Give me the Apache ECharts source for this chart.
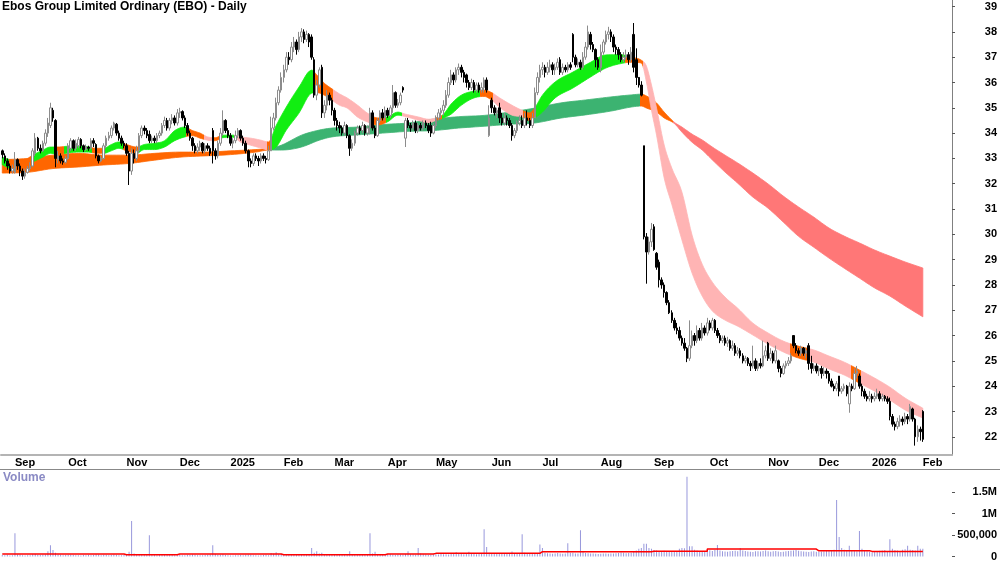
<!DOCTYPE html>
<html>
<head>
<meta charset="utf-8">
<script src="https://cdn.jsdelivr.net/npm/echarts@6/dist/echarts.min.js"></script>
<style>html,body{margin:0;padding:0;background:#fff}#root{width:1000px;height:562px}</style>
</head>
<body>
<div id="root"></div>
<script>
// daily OHLC, 26 Aug 2024 .. 2 Feb 2026 (ASX trading days)
const opens = [
33.3,33.1,32.9,32.7,32.5,32.45,32.95,32.7,32.5,32.3,
32.45,32.6,32.7,33.2,33.8,33.4,33.3,33.6,34.0,34.3,
34.9,34.5,32.95,33.1,32.9,32.85,33.0,33.4,33.7,33.4,
33.5,33.75,33.5,33.35,33.45,33.4,33.7,33.55,33.1,32.9,
33.0,33.5,33.8,33.9,34.2,34.35,34.0,33.8,33.6,33.5,
33.2,32.5,33.2,33.0,33.3,33.9,34.2,34.1,33.95,33.7,
33.8,33.7,33.9,34.0,34.3,34.5,34.2,34.5,34.6,34.4,
34.8,34.85,34.6,34.3,34.0,33.8,33.5,33.3,33.45,33.6,
33.3,33.5,33.4,34.1,33.3,33.1,33.6,34.0,34.5,34.1,
33.9,33.6,33.7,33.9,34.1,33.8,33.6,33.3,32.9,32.8,
33.1,33.0,32.9,33.1,33.0,32.95,33.3,34.2,34.6,35.2,
35.7,36.2,36.5,37.0,36.9,37.4,37.6,37.3,37.8,38.0,
37.7,37.9,37.8,36.9,35.5,35.9,36.6,34.8,35.1,35.5,
35.3,34.9,34.5,34.3,34.2,34.0,34.3,33.9,33.4,33.6,
34.0,34.2,34.1,34.3,34.0,34.2,34.8,34.2,33.9,34.5,
34.8,34.6,34.9,34.7,35.0,35.6,35.1,35.2,35.8,33.8,
34.5,34.3,34.2,34.4,34.1,34.3,34.2,34.4,34.3,34.3,
34.0,34.3,34.6,34.8,34.9,35.1,35.5,36.0,36.3,36.1,
36.5,36.6,36.4,36.3,36.0,35.8,36.0,35.7,35.9,35.7,
35.8,36.1,33.9,35.3,35.0,34.8,35.0,34.6,34.4,34.6,
34.5,34.3,33.9,34.1,34.4,34.5,34.3,34.6,34.5,34.3,
34.6,35.6,36.2,36.5,36.6,36.4,36.6,36.7,36.5,36.6,
36.9,36.4,36.6,36.5,36.7,37.9,37.0,36.7,36.8,36.6,
37.0,37.4,37.9,37.5,37.3,36.9,36.6,37.2,37.6,37.9,
38.0,37.8,37.4,37.3,37.1,36.9,37.0,37.1,36.9,37.9,
36.9,36.2,35.9,33.5,29.9,29.3,29.7,30.3,29.25,28.9,
28.2,28.0,27.7,27.3,26.9,26.6,26.3,26.2,25.9,25.7,
25.5,25.1,25.6,26.0,25.8,26.2,25.9,26.3,26.1,26.5,
26.3,26.6,26.2,26.0,25.8,25.9,25.7,25.8,25.5,25.6,
25.3,25.4,25.2,25.0,25.1,24.9,24.8,25.0,24.7,24.9,
24.8,25.2,25.7,25.1,25.3,25.0,25.0,24.7,24.5,24.8,
24.9,25.0,26.0,25.6,25.4,25.3,25.5,25.3,25.6,24.9,
24.7,24.8,24.6,24.7,24.5,24.6,24.5,24.2,24.0,23.9,
24.4,23.8,23.9,24.0,23.3,24.0,23.9,24.5,24.4,24.0,
23.8,23.6,23.5,23.6,23.5,23.6,23.7,23.5,23.6,23.5,
23.4,22.8,22.5,22.4,22.6,22.7,22.6,22.8,22.7,23.1,
22.7,22.0,22.3,23.0
];
const closes = [
33.15,32.9,32.7,32.5,32.6,32.95,32.7,32.5,32.3,32.45,
32.6,32.7,33.3,33.8,33.4,33.3,33.6,34.0,34.4,35.0,
34.6,33.0,33.1,32.9,32.85,33.0,33.5,33.7,33.4,33.6,
33.75,33.5,33.35,33.45,33.4,33.7,33.6,33.1,32.9,33.0,
33.5,33.8,33.9,34.2,34.4,34.0,33.8,33.6,33.5,33.2,
32.5,33.2,33.0,33.3,33.9,34.2,34.1,33.9,33.7,33.8,
33.7,33.9,34.0,34.3,34.5,34.2,34.5,34.6,34.4,34.8,
34.85,34.6,34.3,34.0,33.8,33.5,33.3,33.45,33.6,33.3,
33.5,33.4,33.2,33.3,33.1,33.6,34.0,34.5,34.1,33.9,
33.6,33.7,33.9,34.1,33.8,33.6,33.3,32.9,32.8,33.1,
33.0,32.9,33.1,33.0,32.95,33.3,34.2,34.6,35.2,35.7,
36.2,36.5,37.0,36.9,37.4,37.6,37.3,37.8,38.0,37.7,
37.9,37.6,37.0,35.5,35.9,36.5,34.8,35.1,35.5,35.3,
34.9,34.5,34.3,34.2,34.0,34.3,33.9,33.4,33.6,34.0,
34.2,34.1,34.3,34.0,34.2,34.8,34.2,33.9,34.5,34.8,
34.6,34.9,34.7,35.0,35.6,35.1,35.2,35.5,35.7,34.5,
34.3,34.2,34.4,34.1,34.3,34.2,34.4,34.3,34.1,34.0,
34.3,34.6,34.8,34.9,35.1,35.5,36.0,36.3,36.1,36.5,
36.6,36.4,36.2,36.0,35.8,36.0,35.7,35.9,35.7,35.8,
36.1,35.7,34.6,35.0,34.8,34.9,34.6,34.4,34.6,34.5,
34.3,33.9,34.1,34.4,34.5,34.3,34.6,34.5,34.3,34.6,
35.6,36.2,36.5,36.6,36.4,36.6,36.7,36.5,36.6,36.8,
36.4,36.6,36.5,36.7,36.6,37.0,36.7,36.8,36.6,37.0,
37.4,38.0,37.5,37.3,36.9,36.6,37.2,37.6,37.9,38.0,
37.8,37.4,37.3,37.1,36.9,37.0,37.1,36.9,37.2,36.6,
36.2,35.9,35.5,29.9,29.3,29.7,30.2,29.4,28.7,28.2,
28.0,27.7,27.3,26.9,26.6,26.3,26.2,25.9,25.7,25.5,
25.1,25.6,26.0,25.8,26.2,25.9,26.3,26.1,26.5,26.3,
26.6,26.2,26.0,25.8,25.9,25.7,25.8,25.5,25.6,25.3,
25.4,25.2,25.0,25.1,24.9,24.8,25.0,24.7,24.9,24.8,
25.2,25.4,25.1,25.3,25.0,25.4,24.7,24.5,24.8,24.9,
25.0,25.2,25.6,25.4,25.3,25.5,25.3,25.4,24.9,24.7,
24.8,24.6,24.7,24.5,24.6,24.5,24.2,24.0,23.9,24.1,
23.8,23.9,24.0,23.7,24.0,23.9,24.5,24.6,24.0,23.8,
23.6,23.5,23.6,23.5,23.6,23.7,23.5,23.6,23.5,23.4,
22.8,22.5,22.4,22.6,22.7,22.6,22.8,22.7,23.2,22.7,
22.0,22.3,22.2,21.9
];
const lows = [
33.0,32.8,32.55,32.4,32.4,32.4,32.55,32.3,32.15,32.2,
32.4,32.5,32.65,33.1,33.3,33.2,33.25,33.5,33.85,34.2,
34.45,32.65,32.8,32.8,32.75,32.8,32.95,33.3,33.3,33.3,
33.4,33.4,33.25,33.3,33.3,33.35,33.45,33.0,32.8,32.85,
32.95,33.4,33.7,33.8,34.1,33.9,33.7,33.5,33.4,33.1,
31.95,32.35,32.8,32.9,33.2,33.8,33.95,33.8,33.6,33.6,
33.6,33.6,33.8,33.9,34.2,34.1,34.1,34.35,34.3,34.3,
34.6,34.5,34.2,33.9,33.7,33.3,33.2,33.2,33.3,33.2,
33.2,33.3,33.1,32.8,32.95,33.0,33.5,33.9,34.0,33.8,
33.5,33.4,33.6,33.8,33.7,33.5,33.2,32.65,32.65,32.7,
32.9,32.7,32.8,32.9,32.8,32.9,33.3,34.1,34.5,35.1,
35.6,36.0,36.4,36.7,36.8,37.2,37.1,37.2,37.6,37.55,
37.6,37.4,36.9,35.4,35.3,35.8,34.6,34.6,34.9,35.1,
34.7,34.3,34.1,34.0,33.9,33.9,33.8,33.1,33.3,33.5,
33.9,33.95,34.0,33.9,33.9,33.95,34.1,33.8,33.85,34.4,
34.5,34.5,34.6,34.6,34.8,35.0,35.0,35.1,35.6,33.45,
34.2,34.05,34.1,34.0,34.0,34.1,34.1,34.2,34.0,33.85,
33.95,34.2,34.5,34.6,34.7,35.0,35.4,35.9,35.9,36.0,
36.3,36.2,36.0,35.8,35.7,35.7,35.6,35.6,35.6,35.6,
35.6,35.6,33.85,34.8,34.7,34.6,34.4,34.3,34.3,34.3,
34.2,33.7,33.8,34.0,34.3,34.2,34.2,34.3,34.2,34.2,
34.6,35.5,36.0,36.3,36.2,36.3,36.4,36.3,36.3,36.5,
36.3,36.3,36.4,36.4,36.5,36.8,36.6,36.6,36.5,36.5,
36.9,37.3,37.3,37.2,36.6,36.5,36.4,37.1,37.5,37.7,
37.6,37.2,37.1,36.9,36.8,36.8,36.9,36.7,36.8,36.4,
35.9,35.8,35.45,29.8,28.05,29.2,29.5,29.35,28.6,27.9,
27.85,27.5,27.2,26.85,26.5,26.2,26.05,25.8,25.6,25.4,
24.95,25.0,25.5,25.6,25.7,25.8,25.8,26.0,26.0,26.2,
26.2,26.1,25.9,25.7,25.7,25.6,25.55,25.4,25.4,25.2,
25.2,25.1,24.9,24.9,24.8,24.6,24.7,24.6,24.6,24.7,
24.75,25.1,25.0,25.0,24.9,24.9,24.55,24.35,24.45,24.7,
24.8,24.9,25.5,25.3,25.2,25.2,25.2,25.1,24.65,24.5,
24.6,24.5,24.4,24.3,24.4,24.3,24.1,23.95,23.8,23.8,
23.6,23.7,23.8,23.6,22.95,23.8,23.85,24.3,23.9,23.6,
23.5,23.4,23.4,23.35,23.4,23.5,23.4,23.4,23.4,23.3,
22.65,22.4,22.25,22.3,22.4,22.45,22.5,22.5,22.6,22.6,
21.65,21.8,21.85,21.8
];
const highs = [
33.35,33.2,33.0,32.8,32.75,33.25,33.0,32.8,32.6,32.6,
32.7,32.85,33.4,34.0,33.85,33.55,33.7,34.15,34.6,35.2,
35.0,34.55,33.3,33.2,33.0,33.1,33.6,33.8,33.75,33.75,
33.85,33.8,33.55,33.55,33.5,33.8,33.8,33.6,33.15,33.1,
33.6,33.9,34.05,34.3,34.45,34.4,34.1,33.9,33.7,33.6,
33.3,33.4,33.35,33.5,34.0,34.3,34.3,34.2,34.1,33.9,
33.9,34.0,34.1,34.4,34.65,34.6,34.6,34.75,34.7,34.95,
35.0,34.9,34.7,34.4,34.1,33.85,33.6,33.6,33.7,33.65,
33.6,33.6,33.5,34.2,33.4,33.7,34.2,34.9,34.55,34.2,
34.0,33.8,34.1,34.2,34.15,33.9,33.7,33.35,33.0,33.2,
33.2,33.1,33.2,33.2,33.1,33.5,34.65,34.8,35.4,35.85,
36.4,36.7,37.2,37.2,37.6,37.8,37.7,38.0,38.15,38.1,
38.05,37.95,37.9,37.0,36.1,36.6,36.7,35.3,35.7,35.6,
35.4,35.0,34.6,34.45,34.3,34.45,34.35,33.95,33.75,34.1,
34.3,34.3,34.45,34.35,34.3,35.0,34.9,34.3,34.6,34.9,
34.95,35.05,35.0,35.1,35.9,35.65,35.35,35.6,35.85,34.6,
34.6,34.4,34.5,34.5,34.4,34.4,34.5,34.5,34.4,34.45,
34.4,34.7,34.95,35.0,35.3,35.7,36.2,36.5,36.4,36.6,
36.75,36.7,36.5,36.35,36.1,36.15,36.1,36.0,36.0,36.0,
36.2,36.2,35.1,35.4,35.1,35.0,35.2,34.8,34.8,34.7,
34.6,34.4,34.2,34.5,34.7,34.7,34.8,34.9,34.6,34.8,
35.8,36.4,36.7,36.8,36.7,36.8,36.9,36.8,36.75,36.95,
37.0,36.75,36.7,36.8,36.8,37.95,37.1,36.95,36.9,37.2,
37.6,38.25,38.0,37.6,37.35,37.0,37.5,37.7,38.05,38.2,
38.1,37.9,37.5,37.4,37.2,37.2,37.3,37.2,37.4,38.35,
37.35,36.1,36.05,33.5,30.05,29.9,30.45,30.4,29.3,29.0,
28.3,28.1,27.75,27.4,27.0,26.7,26.5,26.35,26.0,25.9,
25.55,26.6,26.2,26.1,26.4,26.3,26.5,26.4,26.7,26.6,
26.7,26.65,26.3,26.1,26.0,26.0,25.95,25.85,25.8,25.7,
25.55,25.5,25.3,25.2,25.15,25.0,25.6,25.1,25.0,25.1,
25.8,25.6,25.75,25.5,25.4,25.6,25.05,24.8,24.9,25.0,
25.15,25.3,26.0,25.7,25.5,25.6,25.55,25.5,25.7,25.2,
24.9,24.9,24.8,24.8,24.75,24.7,24.6,24.3,24.1,24.2,
24.4,24.0,24.1,24.05,24.15,24.1,24.7,24.8,24.5,24.1,
23.9,23.7,23.8,23.7,23.75,23.9,23.8,23.7,23.65,23.6,
23.55,22.9,22.6,22.75,22.85,22.8,22.95,22.9,23.3,23.15,
22.75,22.45,22.4,23.05
];
// volume in thousands of shares
const volumesK = [
35,28,40,22,30,540,45,38,30,25,
32,28,55,60,42,35,40,48,120,265,
150,90,45,38,30,35,42,40,33,28,
30,25,35,28,40,30,36,55,48,32,
38,42,30,36,45,38,30,28,35,60,
110,825,70,45,40,38,42,35,495,48,
36,30,42,38,35,40,45,38,30,42,
35,30,28,40,36,45,38,32,30,28,
35,40,45,265,60,38,42,50,36,30,
25,22,30,28,35,32,40,45,38,30,
28,25,32,36,40,30,80,65,100,55,
60,45,40,38,52,48,40,36,45,50,
42,60,196,90,120,70,85,55,48,40,
45,38,42,50,36,40,44,120,60,48,
42,38,50,45,55,540,70,110,60,48,
42,38,45,50,40,36,44,48,42,60,
120,55,48,42,200,70,50,45,42,38,
48,52,45,60,55,50,48,62,58,100,
65,58,52,60,110,70,62,55,60,66,
634,220,90,75,68,60,72,66,58,70,
62,115,80,72,68,518,90,70,64,60,
75,82,280,200,90,78,70,66,72,80,
68,62,70,311,85,90,72,68,610,110,
80,75,70,68,62,58,66,72,70,64,
68,72,78,84,92,88,75,82,90,120,
140,180,200,300,300,200,180,150,140,130,
120,135,125,115,130,110,120,180,200,190,
1860,240,240,160,140,130,125,120,135,145,
130,150,270,140,125,118,110,120,128,135,
122,200,140,130,115,110,105,120,125,118,
130,140,125,110,120,130,115,105,112,120,
128,135,140,150,132,125,118,110,105,115,
120,112,108,118,125,130,140,150,160,1320,
457,200,160,140,250,150,130,120,595,180,
130,120,110,100,115,125,135,140,150,130,
400,180,150,140,130,160,170,250,160,150,
140,250,180,180
];
// red volume average line, one level per month from Aug 2024 to Feb 2026 (thousands)
const volAvgK = [58,58,57,42,58,57,40,42,57,73,73,111,111,120,173,173,134,119,119];

// short-term moving average band, read at sample days
const shortIdx = [0,3,7,12,16,19,22,26,30,34,37,40,43,46,49,53,56,60,64,68,72,75,78,81,84,87,91,94,98,102,105,108,112,117,122,124,127,130,133,136,140,144,148,152,156,159,164,168,171,174,177,181,186,190,193,196,201,205,208,210,213,218,225,232,238,244,248,252,254,256,258,261,264,268,272,276,280,285,290,296,302,308,314,320,326,332,338,344,350,356,363];
const shortHi = [33.05,32.95,32.85,33.13,33.33,33.45,33.45,33.48,33.48,33.45,33.4,33.4,33.55,33.65,33.55,33.45,33.55,33.6,33.7,34.1,34.24,34.1,34.0,33.85,33.82,33.92,33.92,33.85,33.8,33.72,33.65,34.3,35.03,35.82,36.49,36.3,35.97,35.75,35.55,35.39,35.11,34.79,34.6,34.65,34.83,34.75,34.64,34.55,34.6,34.75,35.15,35.5,35.66,35.7,35.6,35.4,35.1,34.9,34.8,35.0,35.5,36.02,36.41,36.8,37.09,37.1,37.0,36.88,36.65,35.9,34.99,33.53,32.62,31.67,29.97,28.82,28.11,27.52,27.08,26.49,26.1,25.78,25.58,25.43,25.19,24.95,24.64,24.32,23.96,23.53,23.13];
const shortLo = [32.75,32.6,32.5,32.85,33.05,33.2,33.15,33.22,33.25,33.25,33.2,33.2,33.3,33.4,33.3,33.2,33.35,33.35,33.45,33.7,33.85,33.9,33.8,33.72,33.7,33.82,33.84,33.64,33.52,33.41,33.33,33.45,34.12,34.79,35.58,35.6,35.5,35.3,35.1,34.99,34.64,34.44,34.32,34.45,34.71,34.65,34.51,34.4,34.5,34.6,34.75,35.1,35.39,35.45,35.3,35.03,34.71,34.64,34.5,34.6,34.83,35.39,35.78,36.22,36.57,36.75,36.8,36.77,36.02,34.9,33.92,32.23,31.19,29.78,28.47,27.56,26.97,26.61,26.37,26.02,25.66,25.35,25.11,24.95,24.68,24.44,24.12,23.8,23.45,23.06,22.74];
// colour of the short band from each start day on
const shortSegs = [[0,'#11ee11'],[3,'#ff6600'],[12,'#11ee11'],[21,'#ff6600'],[25,'#11ee11'],[36,'#ff6600'],[41,'#11ee11'],[48,'#ff6600'],[54,'#11ee11'],[73,'#ff6600'],[80,'#ffb4b4'],[84,'#ff6600'],[87,'#11ee11'],[92,'#ffb4b4'],[105,'#ff6600'],[107,'#11ee11'],[123,'#ff6600'],[131,'#ffb4b4'],[146,'#ff6600'],[152,'#11ee11'],[158,'#ffb4b4'],[171,'#ff6600'],[174,'#11ee11'],[189,'#ff6600'],[194,'#ffb4b4'],[206,'#ff6600'],[210,'#11ee11'],[246,'#ff6600'],[253,'#ffb4b4'],[311,'#ff6600'],[318,'#ffb4b4'],[335,'#ff6600'],[339,'#ffb4b4']];

// long-term moving average band
const longIdx = [0,10,20,30,40,50,60,70,80,90,100,105,110,118,125,130,140,150,160,170,180,190,200,210,220,230,240,248,252,254,258,261,265,268,272,276,280,285,290,296,302,308,314,320,326,332,338,344,350,356,363];
const longHi = [32.95,33.0,33.13,33.2,33.13,33.13,33.2,33.25,33.25,33.3,33.35,33.4,33.52,33.92,34.12,34.2,34.24,34.34,34.4,34.55,34.65,34.7,34.83,34.99,35.19,35.31,35.43,35.51,35.54,35.47,35.19,34.83,34.43,34.24,33.96,33.73,33.45,33.13,32.82,32.42,31.99,31.51,31.08,30.68,30.25,29.93,29.66,29.38,29.14,28.91,28.67];
const longLo = [32.42,32.45,32.6,32.66,32.74,32.8,32.93,33.05,33.1,33.15,33.25,33.33,33.33,33.45,33.72,33.85,33.93,34.0,34.07,34.1,34.2,34.27,34.35,34.4,34.59,34.72,34.87,35.03,35.07,34.99,34.83,34.6,34.38,34.04,33.64,33.33,32.94,32.46,32.02,31.47,31.03,30.48,29.92,29.49,29.06,28.66,28.27,27.88,27.56,27.17,26.74];
const longSegs = [[0,'#ff6600'],[106,'#3cb371'],[252,'#ff6600'],[265,'#ff7777']];

const priceTicks = [22,23,24,25,26,27,28,29,30,31,32,33,34,35,36,37,38,39];
const volumeTicks = [0,500000,1000000,1500000];
const monthNames = ['Jan','Feb','Mar','Apr','May','Jun','Jul','Aug','Sep','Oct','Nov','Dec'];
const holidays = ['2024-12-25','2024-12-26','2025-01-01','2025-01-27','2025-04-18','2025-04-21','2025-04-25','2025-06-09','2025-12-25','2025-12-26','2026-01-01','2026-01-26'];

// trading-day categories, with some empty days after the last bar
const SLOTS = 375;
const dates = [];
let d = new Date(Date.UTC(2024, 7, 26));
while (dates.length < SLOTS) {
    const wd = d.getUTCDay();
    const s = d.toISOString().slice(0, 10);
    if (wd !== 0 && wd !== 6 && holidays.indexOf(s) < 0) dates.push(s);
    d.setUTCDate(d.getUTCDate() + 1);
}
const isMonthStart = dates.map((s, i) => i > 0 && s.slice(0, 7) !== dates[i - 1].slice(0, 7));
const monthLabel = s => {
    const m = +s.slice(5, 7);
    return m === 1 ? s.slice(0, 4) : monthNames[m - 1];
};

const n = closes.length;
const candles = closes.map((c, i) => [opens[i], c, lows[i], highs[i]]);
const volumes = volumesK.map(v => v * 1000);
const volAvg = dates.slice(0, n).map(s => {
    const k = (+s.slice(0, 4) - 2024) * 12 + (+s.slice(5, 7)) - 8;
    return volAvgK[k] * 1000;
});

// monotone cubic through pixel points (x increasing), for a smooth band edge
function smoothEdge(pts, steps) {
    const m = pts.length, sl = [], tg = new Array(m);
    for (let k = 0; k < m - 1; k++) sl[k] = (pts[k + 1][1] - pts[k][1]) / (pts[k + 1][0] - pts[k][0]);
    tg[0] = sl[0]; tg[m - 1] = sl[m - 2];
    for (let k = 1; k < m - 1; k++) tg[k] = sl[k - 1] * sl[k] <= 0 ? 0 : (sl[k - 1] + sl[k]) / 2;
    for (let k = 0; k < m - 1; k++) {
        if (sl[k] === 0) { tg[k] = 0; tg[k + 1] = 0; continue; }
        const a = tg[k] / sl[k], b = tg[k + 1] / sl[k], h = a * a + b * b;
        if (h > 9) { const t = 3 / Math.sqrt(h); tg[k] = t * a * sl[k]; tg[k + 1] = t * b * sl[k]; }
    }
    const out = [];
    for (let k = 0; k < m - 1; k++) {
        const [x0, y0] = pts[k], [x1, y1] = pts[k + 1], dx = x1 - x0;
        for (let i = 0; i < steps; i++) {
            const t = i / steps, t2 = t * t, t3 = t2 * t;
            const y = (2 * t3 - 3 * t2 + 1) * y0 + (t3 - 2 * t2 + t) * dx * tg[k] + (-2 * t3 + 3 * t2) * y1 + (t3 - t2) * dx * tg[k + 1];
            out.push([x0 + t * dx, y]);
        }
    }
    out.push(pts[m - 1]);
    return out;
}

function bandSeries(name, idx, hi, lo, segs, z) {
    return {
        name: name, type: 'custom', xAxisIndex: 0, yAxisIndex: 0, z: z, silent: true, clip: true,
        data: [[idx[0], lo[0]]],
        encode: { x: 0, y: 1 },
        renderItem: function (params, api) {
            const top = smoothEdge(idx.map((k, j) => api.coord([k, hi[j]])), 6);
            const bot = smoothEdge(idx.map((k, j) => api.coord([k, lo[j]])), 6);
            const pts = top.concat(bot.reverse());
            const x0 = params.coordSys.x, w = params.coordSys.width;
            const half = api.size([1, 0])[0] / 2;
            const off = k => Math.min(1, Math.max(0, (api.coord([k, 30])[0] - half - x0) / w));
            const stops = [];
            segs.forEach((s, j) => {
                stops.push({ offset: j === 0 ? 0 : off(s[0]), color: s[1] });
                stops.push({ offset: j + 1 < segs.length ? off(segs[j + 1][0]) : 1, color: s[1] });
            });
            const grad = new echarts.graphic.LinearGradient(x0, 0, x0 + w, 0, stops, true);
            return { type: 'polygon', shape: { points: pts }, style: { fill: grad, stroke: grad, lineWidth: 0.8 } };
        }
    };
}

const font = 'Arial, "Liberation Sans", sans-serif';

let root = document.getElementById('root');
let myCharts = echarts.init(root);
let option = {
    animation: false,
    backgroundColor: '#ffffff',
    title: {
        text: 'Ebos Group Limited Ordinary (EBO) - Daily',
        left: 2, top: 1, padding: 0,
        textStyle: { fontSize: 12, fontWeight: 'bold', color: '#000', fontFamily: font }
    },
    grid: [
        { left: 1, right: 48, top: 0, bottom: 107 },
        { left: 1, right: 48, top: 469, bottom: 4.5 }
    ],
    xAxis: [
        {
            type: 'category', gridIndex: 0, data: dates, boundaryGap: true,
            axisLine: { lineStyle: { color: '#b4b4b4', width: 2 } },
            axisTick: { interval: (i) => isMonthStart[i], length: 4, lineStyle: { color: '#666' } },
            axisLabel: {
                interval: (i) => isMonthStart[i], formatter: monthLabel,
                align: 'left', margin: 2, color: '#000', fontWeight: 'bold', fontSize: 11, fontFamily: font
            },
            splitLine: { show: false }
        },
        {
            type: 'category', gridIndex: 1, data: dates, boundaryGap: true,
            axisLine: { show: false }, axisTick: { show: false }, axisLabel: { show: false }
        }
    ],
    yAxis: [
        {
            type: 'value', gridIndex: 0, position: 'right', min: 21.28, max: 39.26,
            splitLine: { show: false },
            axisLine: { show: true, lineStyle: { color: '#808080' } },
            axisTick: { show: true, length: 3, customValues: priceTicks, lineStyle: { color: '#555' } },
            axisLabel: { customValues: priceTicks, align: 'right', margin: 45, color: '#000', fontWeight: 'bold', fontSize: 11, fontFamily: font }
        },
        {
            type: 'value', gridIndex: 1, position: 'right', min: 0, max: 2040000,
            splitLine: { show: false },
            axisLine: { show: false },
            axisTick: { show: true, length: 3, customValues: volumeTicks, lineStyle: { color: '#555' } },
            axisLabel: {
                customValues: volumeTicks, align: 'right', margin: 45, color: '#000', fontWeight: 'bold', fontSize: 11, fontFamily: font,
                formatter: v => v === 0 ? '0' : v >= 1000000 ? (v / 1000000) + 'M' : v.toLocaleString('en-US')
            }
        }
    ],
    graphic: [
        { type: 'line', shape: { x1: 0, y1: 469.5, x2: 1000, y2: 469.5 }, style: { stroke: '#888', lineWidth: 1 } },
        { type: 'text', left: 3, top: 472, style: { text: 'Volume', fill: '#8a8ac4', font: 'bold 12px ' + font } }
    ],
    series: [
        bandSeries('long band', longIdx, longHi, longLo, longSegs, 1),
        bandSeries('short band', shortIdx, shortHi, shortLo, shortSegs, 2),
        {
            name: 'EBO', type: 'candlestick', data: candles, barWidth: 2, z: 5,
            itemStyle: { color: '#ffffff', color0: '#000000', borderColor: '#8c8c8c', borderColor0: '#000000', borderWidth: 1 }
        },
        {
            name: 'Volume', type: 'bar', xAxisIndex: 1, yAxisIndex: 1, data: volumes, barWidth: 1,
            itemStyle: { color: '#9898dc' }
        },
        {
            name: 'Volume avg', type: 'line', xAxisIndex: 1, yAxisIndex: 1, data: volAvg, step: 'start',
            showSymbol: false, symbol: 'none', lineStyle: { color: '#ff0000', width: 1.5 }, z: 4
        }
    ]
};
myCharts.setOption(option);
</script>
</body>
</html>
